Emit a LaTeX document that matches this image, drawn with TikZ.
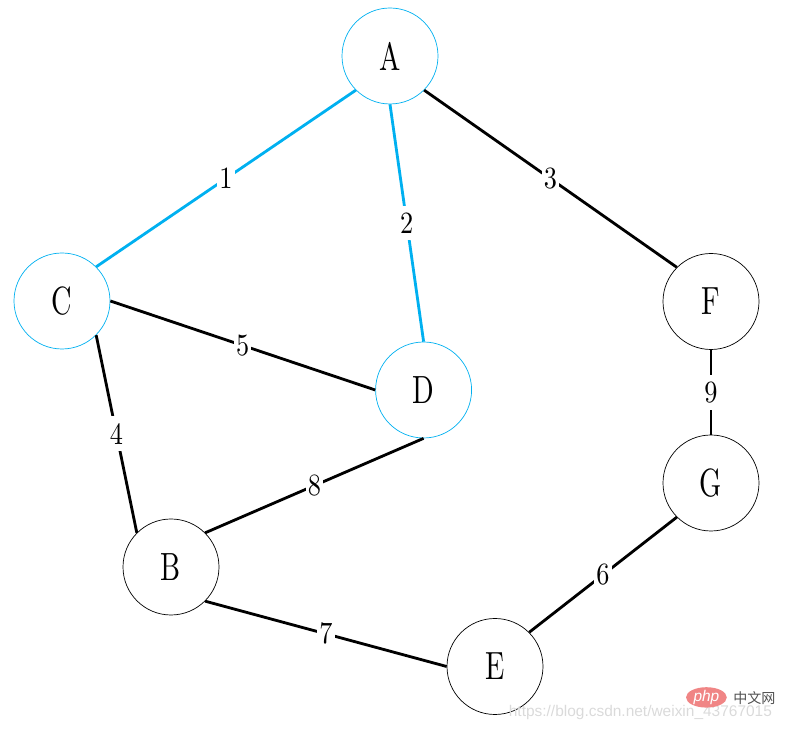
\documentclass[tikz,border=0pt]{standalone}
\usepackage{fontspec}
\usepackage{tikz}
\usetikzlibrary{shapes.geometric}
\newfontfamily\vertexfont[FakeStretch=0.72]{lmroman10-regular.otf}
\newfontfamily\weightfont[FakeStretch=0.85]{lmroman10-regular.otf}
\newfontfamily\cjkfont{Noto Sans CJK SC}
\definecolor{visited}{HTML}{00B0F0}
\definecolor{wmgray}{HTML}{DADADA}
\definecolor{wmred}{HTML}{F08585}
\definecolor{wmdark}{HTML}{505050}
\tikzset{vertex/.style={black,draw=black,circle,minimum size=2.4cm,inner sep=0pt,line width=0.5pt,font=\vertexfont\fontsize{28}{28}\selectfont}}
\tikzset{seen/.style={vertex,draw=visited}}
\tikzset{edge/.style={black,line width=2pt}}
\tikzset{tree/.style={edge,draw=visited}}
\tikzset{weight/.style={black,fill=white,inner xsep=1.5pt,inner ysep=5pt,font=\weightfont\fontsize{22}{22}\selectfont}}

\begin{document}
\begin{tikzpicture}
    \useasboundingbox (0,0) rectangle (19.625,18.275);

    \node[seen] (A) at (9.75,16.875) {A};
    \node[seen] (C) at (1.55,10.75) {C};
    \node[seen] (D) at (10.59,8.525) {D};
    \node[vertex] (F) at (17.775,10.7375) {F};
    \node[vertex] (G) at (17.775,6.2) {G};
    \node[vertex] (B) at (4.275,4.1) {B};
    \node[vertex] (E) at (12.375,1.6125) {E};

    \draw[tree] (A.south west) -- node[weight] {1} (C.north east);
    \draw[tree] (A.south) -- node[weight] {2} (D.north);
    \draw[edge] (A.south east) -- node[weight] {3} (F.north west);
    \draw[edge] (C.east) -- node[weight] {5} (D.west);
    \draw[edge] (C.south east) -- node[weight] {4} (B.north west);
    \draw[edge] (B.north east) -- node[weight] {8} (D.south);
    \draw[edge] (F.south) -- node[weight] {9} (G.north);
    \draw[edge] (G.south west) -- node[weight] {6} (E.north east);
    \draw[edge] (B.south east) -- node[weight] {7} (E.west);

    % watermark
    \node[wmgray,font=\fontspec{Liberation Sans}\fontsize{11}{11}\selectfont] (url) at (16.01,0.46) {https://blog.csdn.net/weixin\_43767015};
    \node[ellipse,fill=wmred,text=white,minimum width=1.02cm,minimum height=0.42cm,inner sep=0pt,font=\fontspec{Liberation Sans}\itshape\fontsize{11}{11}\selectfont] (php) at (17.66,0.84) {php};
    \node[wmdark,font=\cjkfont\fontsize{10}{10}\selectfont,inner sep=0pt] (cn) at (18.86,0.83) {中文网};
\end{tikzpicture}
\end{document}
